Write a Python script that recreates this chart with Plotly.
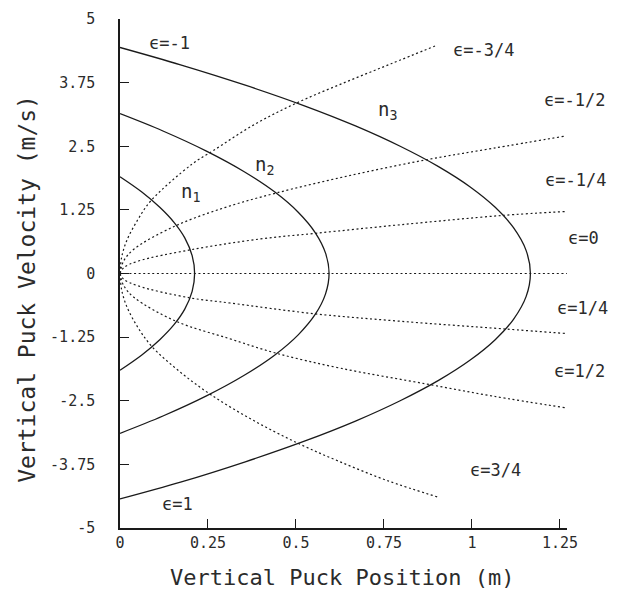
import plotly.graph_objects as go

# ---- data ----
n1_x = [0.0, 0.062, 0.113, 0.154, 0.184, 0.205, 0.212, 0.205, 0.184, 0.154, 0.113, 0.062, 0.0]
n1_y = [1.90, 1.60, 1.30, 1.00, 0.70, 0.35, 0.0, -0.35, -0.70, -1.00, -1.30, -1.60, -1.90]

n2_x = [0.0, 0.122, 0.247, 0.353, 0.440, 0.507, 0.555, 0.584, 0.594, 0.584, 0.555, 0.507, 0.440, 0.353, 0.247, 0.122, 0.0]
n2_y = [3.14, 2.80, 2.40, 2.00, 1.60, 1.20, 0.80, 0.40, 0.0, -0.40, -0.80, -1.20, -1.60, -2.00, -2.40, -2.80, -3.14]

n3_x = [0.0, 0.172, 0.356, 0.522, 0.669, 0.796, 0.905, 0.995, 1.066, 1.118, 1.154, 1.166,
        1.154, 1.118, 1.066, 0.995, 0.905, 0.796, 0.669, 0.522, 0.356, 0.172, 0.0]
n3_y = [4.44, 4.10, 3.70, 3.30, 2.90, 2.50, 2.10, 1.70, 1.30, 0.90, 0.45, 0.0,
        -0.45, -0.90, -1.30, -1.70, -2.10, -2.50, -2.90, -3.30, -3.70, -4.10, -4.43]

eps_m34_x = [0.0, 0.005, 0.02, 0.05, 0.088, 0.205, 0.264, 0.38, 0.505, 0.641, 0.77, 0.895]
eps_m34_y = [0.0, 0.33, 0.66, 1.05, 1.43, 2.15, 2.41, 2.92, 3.36, 3.76, 4.12, 4.47]

eps_m12_x = [0.0, 0.01, 0.04, 0.159, 0.30, 0.443, 0.65, 0.867, 1.06, 1.265]
eps_m12_y = [0.0, 0.24, 0.48, 0.94, 1.30, 1.58, 1.92, 2.23, 2.46, 2.70]

eps_m14_x = [0.0, 0.01, 0.05, 0.204, 0.40, 0.556, 0.80, 1.085, 1.27]
eps_m14_y = [0.0, 0.11, 0.24, 0.47, 0.68, 0.79, 0.96, 1.14, 1.22]

eps_0_x = [0.0, 0.6, 1.27]
eps_0_y = [0.0, 0.0, 0.0]

eps_p14_x = [0.0, 0.01, 0.05, 0.20, 0.313, 0.551, 0.80, 1.094, 1.27]
eps_p14_y = [0.0, -0.11, -0.24, -0.48, -0.58, -0.79, -0.94, -1.09, -1.18]

eps_p12_x = [0.0, 0.01, 0.04, 0.16, 0.311, 0.446, 0.626, 0.87, 1.06, 1.268]
eps_p12_y = [0.0, -0.23, -0.47, -0.94, -1.28, -1.57, -1.86, -2.17, -2.41, -2.64]

eps_p34_x = [0.0, 0.005, 0.02, 0.05, 0.09, 0.17, 0.26, 0.38, 0.507, 0.622, 0.76, 0.907]
eps_p34_y = [0.0, -0.33, -0.66, -1.05, -1.43, -1.93, -2.39, -2.89, -3.34, -3.69, -4.07, -4.40]

x_ticks = [0, 0.25, 0.5, 0.75, 1, 1.25]
x_tick_text = ["0", "0.25", "0.5", "0.75", "1", "1.25"]
y_ticks = [-5, -3.75, -2.5, -1.25, 0, 1.25, 2.5, 3.75, 5]
y_tick_text = ["-5", "-3.75", "-2.5", "-1.25", "0", "1.25", "2.5", "3.75", "5"]

eps_labels = ["ϵ=-1", "ϵ=-3/4", "ϵ=-1/2", "ϵ=-1/4", "ϵ=0", "ϵ=1/4", "ϵ=1/2", "ϵ=3/4", "ϵ=1"]
n_labels = ["n<sub>1</sub>", "n<sub>2</sub>", "n<sub>3</sub>"]
x_title = "Vertical Puck Position (m)"
y_title = "Vertical Puck Velocity (m/s)"

FONT = "DejaVu Sans Mono"
INK = "#1a1a1a"
TXT = "#2b2b2b"
X_MAX = 1.27

fig = go.Figure()

for xs, ys in [(eps_m34_x, eps_m34_y), (eps_m12_x, eps_m12_y), (eps_m14_x, eps_m14_y),
               (eps_0_x, eps_0_y), (eps_p14_x, eps_p14_y), (eps_p12_x, eps_p12_y),
               (eps_p34_x, eps_p34_y)]:
    fig.add_trace(go.Scatter(x=xs, y=ys, mode="lines",
                             line=dict(color=INK, width=1.2, dash="2px,2.6px", shape="spline"),
                             hoverinfo="skip", showlegend=False, cliponaxis=False))

for xs, ys in [(n1_x, n1_y), (n2_x, n2_y), (n3_x, n3_y)]:
    fig.add_trace(go.Scatter(x=xs, y=ys, mode="lines",
                             line=dict(color=INK, width=1.3, shape="spline", smoothing=1.0),
                             hoverinfo="skip", showlegend=False, cliponaxis=False))

# label anchors as fractions of the plot area (paper coordinates)
eps_pos = [(0.110, 0.953), (0.814, 0.939), (1.016, 0.841), (1.020, 0.683), (1.036, 0.569),
           (1.034, 0.433), (1.029, 0.309), (0.839, 0.114), (0.128, 0.047)]
for txt, (ax, ay) in zip(eps_labels, eps_pos):
    fig.add_annotation(x=ax, y=ay, xref="paper", yref="paper", text=txt,
                       showarrow=False, xanchor="center", yanchor="middle",
                       font=dict(family=FONT, size=17, color=TXT))

n_pos = [(0.200, 1.60), (0.41, 2.13), (0.76, 3.20)]
for txt, (ax, ay) in zip(n_labels, n_pos):
    fig.add_annotation(x=ax, y=ay, xref="x", yref="y", text=txt, showarrow=False,
                       xanchor="center", yanchor="middle",
                       font=dict(family=FONT, size=19, color=TXT))

# axis titles as annotations (paper coords relative to plot area)
fig.add_annotation(x=0.497, y=-0.098, xref="paper", yref="paper", text=x_title,
                   showarrow=False, xanchor="center", yanchor="middle",
                   font=dict(family=FONT, size=22, color=TXT))
fig.add_annotation(x=-0.208, y=0.47, xref="paper", yref="paper", text=y_title,
                   showarrow=False, xanchor="center", yanchor="middle", textangle=-90,
                   font=dict(family=FONT, size=23, color=TXT))

fig.update_layout(
    width=621, height=600,
    margin=dict(l=112, r=62, t=11, b=80, autoexpand=False),
    paper_bgcolor="white", plot_bgcolor="white",
    font=dict(family=FONT, color=TXT),
    xaxis=dict(range=[0, X_MAX], tickvals=x_ticks, ticktext=x_tick_text, automargin=False,
               showgrid=False, zeroline=False, showline=True, linecolor=INK, linewidth=1.5,
               ticks="inside", ticklen=9, tickwidth=1.2, tickcolor=INK,
               tickfont=dict(family=FONT, size=15, color=TXT)),
    yaxis=dict(range=[-5, 5], tickvals=y_ticks, ticktext=y_tick_text, automargin=False,
               showgrid=False, zeroline=False, showline=True, linecolor=INK, linewidth=1.5,
               ticks="inside", ticklen=9, tickwidth=1.2, tickcolor=INK,
               ticklabelstandoff=20,
               tickfont=dict(family=FONT, size=15, color=TXT)),
)

fig.write_html("out.html")
